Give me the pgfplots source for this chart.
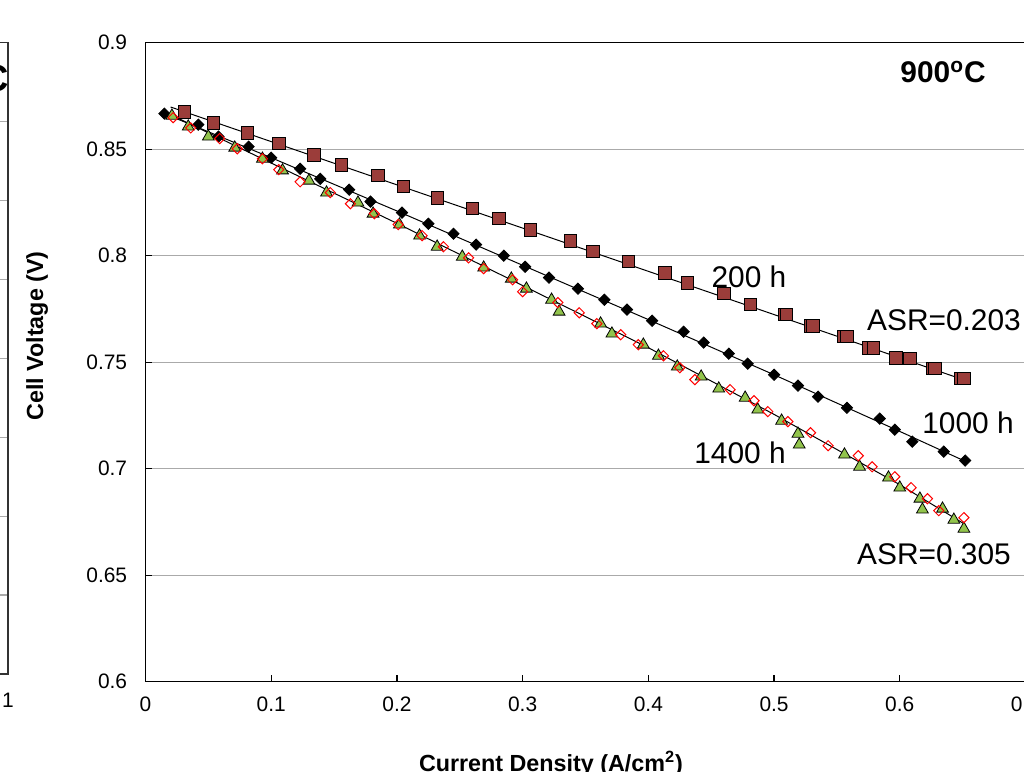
\documentclass[border=0pt]{standalone}
\usepackage{fontspec}
\setmainfont{Liberation Sans}
\usepackage{pgfplots}
\pgfplotsset{compat=1.18}
\definecolor{sqfill}{RGB}{155,61,58}
\definecolor{trifill}{RGB}{146,196,76}
\definecolor{gridgray}{RGB}{170,170,170}
\begin{document}
\begin{tikzpicture}
% neighbouring panel, only its right edge shows
\begin{axis}[at={(4bp,49bp)}, anchor=south east, scale only axis,
  width=200bp, height=315.65bp,
  xmin=0, xmax=1, ymin=0, ymax=8,
  ytick={0,1,2,3,4,5,6,7,8}, yticklabels={}, xtick={1},
  major tick length=0pt,
  ymajorgrids, grid style={gridgray, line width=0.6bp},
  axis line style={black!80, line width=0.75bp},
  xticklabel style={font=\fontsize{10.5}{12}\selectfont, inner sep=0pt, yshift=-9.5bp},
  /pgf/number format/assume math mode=true]
\end{axis}
\node[anchor=east, inner sep=0pt, font=\bfseries\fontsize{19}{22}\selectfont] at (4.8bp,347bp) {C};

\begin{axis}[at={(72.75bp,45.15bp)}, anchor=south west, scale only axis,
  width=440bp, height=319.5bp,
  xmin=0, xmax=0.7, ymin=0.6, ymax=0.9,
  xtick={0,0.1,0.2,0.3,0.4,0.5,0.6,0.7},
  ytick={0.6,0.65,0.7,0.75,0.8,0.85,0.9},
  ymajorgrids, grid style={gridgray, line width=0.6bp},
  tick align=inside, xtick pos=left, ytick pos=left,
  major tick length=3.2bp, tick style={black, line width=0.6bp},
  axis line style={black, line width=0.75bp},
  ticklabel style={font=\fontsize{10.5}{12}\selectfont, inner sep=0pt},
  xticklabel style={yshift=-7.5bp},
  yticklabel style={xshift=-9bp},
  /pgf/number format/.cd, fixed, precision=2, assume math mode=true,
]
% 200 h
\addplot[only marks, mark=square*, mark size=3.1bp,
  mark options={fill=sqfill, draw=black, line width=0.4bp}] coordinates {
(0.031,0.8676)(0.054,0.8624)(0.081,0.8577)(0.106,0.8526)(0.134,0.8474)(0.156,0.8427)
(0.185,0.8376)(0.205,0.8324)(0.232,0.8272)(0.260,0.8221)(0.281,0.8174)(0.306,0.8122)
(0.338,0.8070)(0.356,0.8019)(0.384,0.7972)(0.413,0.7920)(0.431,0.7873)(0.460,0.7822)
(0.481,0.7770)(0.508,0.7723)(0.529,0.7671)(0.555,0.7620)(0.575,0.7568)(0.597,0.7521)
(0.626,0.7470)(0.648,0.7423)};
\addplot[only marks, mark=square*, mark size=3.1bp,
  mark options={fill=sqfill, draw=black, line width=0.4bp}] coordinates {
(0.510,0.7723)(0.531,0.7671)(0.558,0.7620)(0.579,0.7568)(0.608,0.7517)(0.628,0.7470)(0.651,0.7423)};
% 1000 h
\addplot[only marks, mark=square*, mark size=2bp,
  mark options={fill=black, draw=black, rotate=45}] coordinates {
(0.015,0.8667)(0.042,0.8615)(0.058,0.8559)(0.082,0.8512)(0.100,0.8460)(0.123,0.8408)
(0.139,0.8361)(0.162,0.8310)(0.179,0.8254)(0.204,0.8202)(0.225,0.8150)(0.245,0.8103)
(0.263,0.8052)(0.285,0.8000)(0.302,0.7948)(0.321,0.7897)(0.344,0.7845)(0.365,0.7793)
(0.383,0.7747)(0.403,0.7695)(0.428,0.7643)(0.444,0.7592)(0.464,0.7540)(0.479,0.7493)
(0.500,0.7441)(0.519,0.7390)(0.535,0.7338)(0.558,0.7286)(0.584,0.7235)(0.596,0.7183)
(0.610,0.7127)(0.635,0.7080)(0.652,0.7038)};
% 1400 h
\addplot[only marks, mark=triangle*, mark size=3.4bp,
  mark options={fill=trifill, draw=black, line width=0.4bp}] coordinates {
(0.021,0.8657)(0.034,0.8606)(0.050,0.8559)(0.071,0.8507)(0.093,0.8455)(0.109,0.8400)
(0.130,0.8352)(0.144,0.8296)(0.169,0.8249)(0.181,0.8197)(0.202,0.8146)(0.218,0.8094)
(0.232,0.8042)(0.252,0.7995)(0.269,0.7944)(0.291,0.7892)(0.303,0.7845)(0.323,0.7793)
(0.329,0.7737)(0.362,0.7681)(0.371,0.7634)(0.396,0.7582)(0.408,0.7530)(0.423,0.7479)
(0.442,0.7432)(0.456,0.7376)(0.477,0.7333)(0.487,0.7277)(0.506,0.7225)(0.519,0.7164)
(0.520,0.7113)(0.556,0.7066)(0.568,0.7009)(0.591,0.6958)(0.600,0.6911)(0.616,0.6859)
(0.618,0.6808)(0.634,0.6812)(0.643,0.6760)(0.651,0.6718)};
\addplot[only marks, mark=square, mark size=1.8bp,
  mark options={draw=red, rotate=45, line width=0.5bp}] coordinates {
(0.022,0.8648)(0.036,0.8600)(0.059,0.8550)(0.073,0.8502)(0.093,0.8455)(0.106,0.8404)
(0.123,0.8347)(0.147,0.8296)(0.163,0.8244)(0.182,0.8197)(0.201,0.8146)(0.220,0.8094)
(0.237,0.8042)(0.257,0.7990)(0.269,0.7939)(0.292,0.7887)(0.300,0.7831)(0.328,0.7780)
(0.345,0.7732)(0.359,0.7681)(0.378,0.7629)(0.392,0.7582)(0.412,0.7530)(0.425,0.7474)
(0.437,0.7418)(0.465,0.7371)(0.484,0.7319)(0.495,0.7268)(0.511,0.7221)(0.529,0.7169)
(0.543,0.7108)(0.567,0.7061)(0.578,0.7009)(0.596,0.6962)(0.609,0.6911)(0.622,0.6859)
(0.631,0.6803)(0.651,0.6770)};
% trend lines
\addplot[black, line width=0.5bp, no marks] coordinates {(0.020,0.8698)(0.652,0.7415)};
\addplot[black, line width=0.5bp, no marks] coordinates {
(0.015,0.8667)(0.1,0.8460)(0.2,0.8210)(0.3,0.7955)(0.4,0.7700)(0.5,0.7441)(0.6,0.7175)(0.652,0.7035)};
\addplot[black, line width=0.5bp, no marks] coordinates {
(0.020,0.8662)(0.1,0.8435)(0.2,0.8152)(0.3,0.7860)(0.4,0.7568)(0.5,0.7255)(0.6,0.6925)(0.652,0.6738)};
\end{axis}

\node[inner sep=0pt, font=\bfseries\fontsize{15}{18}\selectfont] at (471.5bp,350bp) {900\textsuperscript{o}C};
\node[inner sep=0pt, font=\fontsize{15}{18}\selectfont] at (374.5bp,247.5bp) {200 h};
\node[inner sep=0pt, font=\fontsize{15}{18}\selectfont] at (472bp,226bp) {ASR=0.203};
\node[inner sep=0pt, font=\fontsize{15}{18}\selectfont] at (484bp,174.5bp) {1000 h};
\node[inner sep=0pt, font=\fontsize{15}{18}\selectfont] at (370bp,159.5bp) {1400 h};
\node[inner sep=0pt, font=\fontsize{15}{18}\selectfont] at (467bp,109bp) {ASR=0.305};
\node[anchor=base, inner sep=0pt, font=\bfseries\fontsize{11.7}{14}\selectfont] at (275.5bp,0.2bp) {Current Density (A/cm\textsuperscript{2})};
\node[rotate=90, anchor=base, inner sep=0pt, font=\bfseries\fontsize{11.7}{14}\selectfont] at (21.5bp,218bp) {Cell Voltage (V)};

\pgfresetboundingbox
\useasboundingbox (0,0) rectangle (512bp,386bp);
\end{tikzpicture}
\end{document}
